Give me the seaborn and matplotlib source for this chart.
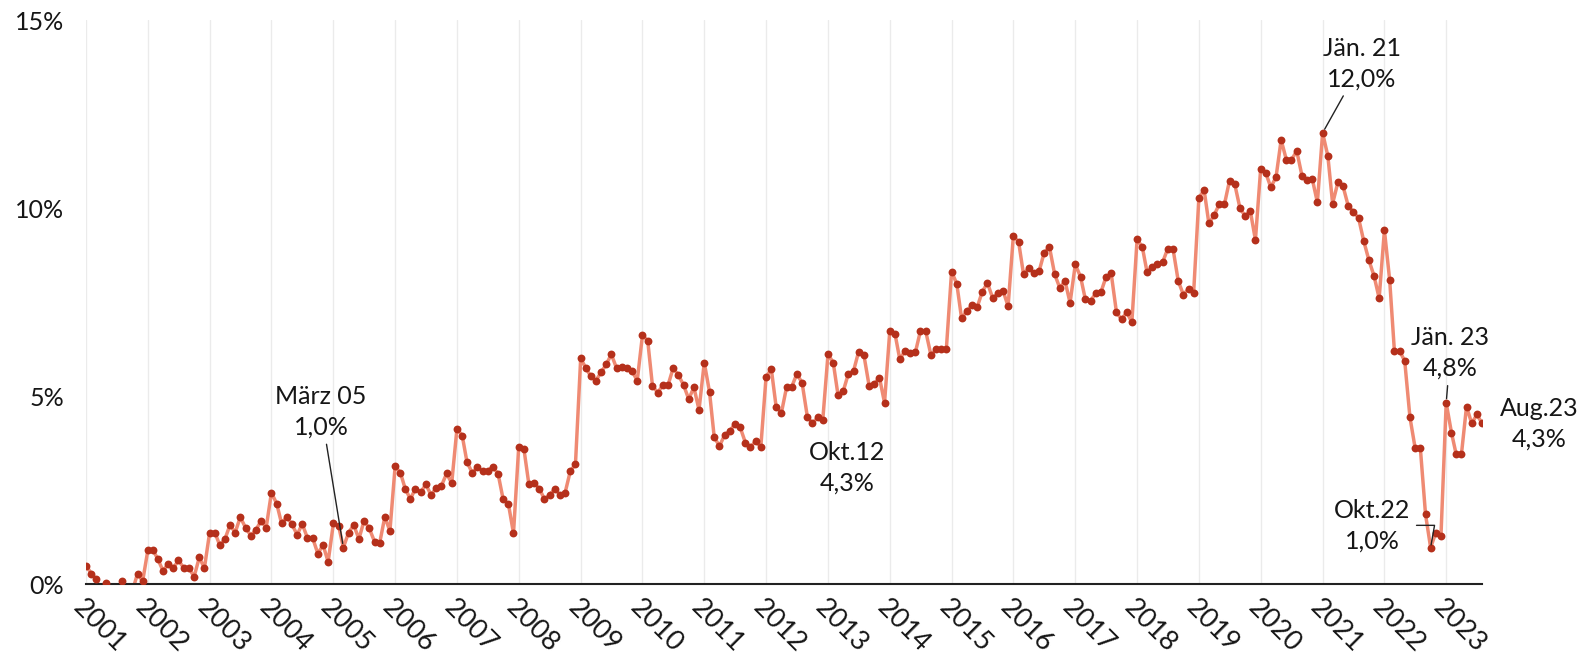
import pandas as pd
import seaborn as sns
import matplotlib.pyplot as plt
import matplotlib.dates as mdates

# Monatswerte in Prozent, je Jahr
rate_2001 = [0.49, 0.28, 0.13, -0.2, 0.02, -0.2, -0.2, 0.09, -0.25, -0.2, 0.28, 0.07]
rate_2002 = [0.90, 0.90, 0.66, 0.35, 0.54, 0.43, 0.63, 0.43, 0.43, 0.19, 0.71, 0.42]
rate_2003 = [1.37, 1.37, 1.04, 1.19, 1.57, 1.37, 1.78, 1.50, 1.29, 1.44, 1.68, 1.50]
rate_2004 = [2.43, 2.14, 1.61, 1.79, 1.59, 1.31, 1.60, 1.22, 1.22, 0.81, 1.04, 0.59]
rate_2005 = [1.61, 1.54, 0.97, 1.37, 1.57, 1.20, 1.68, 1.48, 1.13, 1.08, 1.79, 1.41]
rate_2006 = [3.14, 2.96, 2.54, 2.26, 2.54, 2.44, 2.65, 2.37, 2.56, 2.61, 2.94, 2.68]
rate_2007 = [4.13, 3.95, 3.25, 2.96, 3.10, 3.01, 3.01, 3.12, 2.93, 2.25, 2.13, 1.35]
rate_2008 = [3.65, 3.58, 2.65, 2.68, 2.54, 2.26, 2.37, 2.53, 2.37, 2.43, 3.01, 3.18]
rate_2009 = [6.00, 5.74, 5.53, 5.41, 5.63, 5.84, 6.11, 5.74, 5.76, 5.74, 5.66, 5.41]
rate_2010 = [6.62, 6.47, 5.27, 5.09, 5.29, 5.29, 5.74, 5.56, 5.29, 4.92, 5.23, 4.63]
rate_2011 = [5.89, 5.11, 3.90, 3.67, 3.96, 4.07, 4.26, 4.17, 3.76, 3.64, 3.80, 3.64]
rate_2012 = [5.50, 5.72, 4.70, 4.56, 5.23, 5.25, 5.59, 5.35, 4.45, 4.27, 4.43, 4.36]
rate_2013 = [6.11, 5.89, 5.03, 5.13, 5.59, 5.67, 6.18, 6.09, 5.27, 5.32, 5.49, 4.82]
rate_2014 = [6.73, 6.65, 5.98, 6.20, 6.14, 6.16, 6.73, 6.73, 6.09, 6.24, 6.24, 6.24]
rate_2015 = [8.31, 7.98, 7.07, 7.26, 7.42, 7.36, 7.77, 8.01, 7.60, 7.73, 7.80, 7.39]
rate_2016 = [9.26, 9.10, 8.24, 8.41, 8.26, 8.32, 8.81, 8.97, 8.24, 7.88, 8.06, 7.48]
rate_2017 = [8.50, 8.17, 7.58, 7.53, 7.73, 7.76, 8.16, 8.26, 7.23, 7.04, 7.23, 6.96]
rate_2018 = [9.17, 8.96, 8.29, 8.44, 8.50, 8.56, 8.92, 8.92, 8.06, 7.70, 7.85, 7.75]
rate_2019 = [10.27, 10.48, 9.59, 9.81, 10.10, 10.10, 10.73, 10.63, 9.99, 9.79, 9.92, 9.15]
rate_2020 = [11.04, 10.92, 10.55, 10.83, 11.81, 11.28, 11.28, 11.52, 10.86, 10.74, 10.77, 10.15]
rate_2021 = [12.00, 11.38, 10.12, 10.68, 10.59, 10.06, 9.90, 9.74, 9.12, 8.62, 8.19, 7.60]
rate_2022 = [9.41, 8.09, 6.20, 6.20, 5.93, 4.43, 3.63, 3.63, 1.85, 0.97, 1.37, 1.27]
rate_2023 = [4.82, 4.03, 3.45, 3.45, 4.72, 4.27, 4.51, 4.27]

years = list(range(2001, 2024))
y_ticks = [0, 5, 10, 15]
y_labels = ['0%', '5%', '10%', '15%']

values = (rate_2001 + rate_2002 + rate_2003 + rate_2004 + rate_2005 + rate_2006
          + rate_2007 + rate_2008 + rate_2009 + rate_2010 + rate_2011 + rate_2012
          + rate_2013 + rate_2014 + rate_2015 + rate_2016 + rate_2017 + rate_2018
          + rate_2019 + rate_2020 + rate_2021 + rate_2022 + rate_2023)
df = pd.DataFrame({'Monat': pd.date_range('2001-01-01', periods=len(values), freq='MS'),
                   'Wert': values})

# Beschriftete Punkte: (Datum, Text, Versatz in pt, Linie)
callouts = [
    ('2005-03-01', 'März 05', (-16, 98), 'straight'),
    ('2012-10-01', 'Okt.12', (25, -32), None),
    ('2021-01-01', 'Jän. 21', (28, 50), 'straight'),
    ('2022-10-01', 'Okt.22', (-42, 16), 'angle'),
    ('2023-01-01', 'Jän. 23', (3, 36), 'straight'),
    ('2023-08-01', 'Aug.23', (41, 0), None),
]

sns.set_style('white')
plt.rcParams['font.family'] = ['Lato', 'DejaVu Sans']
text_color = '#161616'

fig = plt.figure(figsize=(15.88, 6.68), dpi=100)
ax = fig.add_axes([0.0542, 0.1257, 0.8791, 0.8443])

sns.lineplot(data=df, x='Monat', y='Wert', color='#ef8a73', linewidth=2.5, ax=ax, zorder=2)
sns.scatterplot(data=df, x='Monat', y='Wert', color='#b5301b', s=32, linewidth=0, ax=ax, zorder=3)

ax.set_xlim(df['Monat'].iloc[0], df['Monat'].iloc[-1])
ax.set_ylim(0, 15)

year_starts = pd.to_datetime([f'{y}-01-01' for y in years])
ax.set_xticks(year_starts)
ax.set_xticklabels([str(y) for y in years], rotation=-45, ha='left', va='top',
                   rotation_mode='anchor', fontsize=19.5, color=text_color)
ax.tick_params(axis='x', direction='inout', length=14, width=1.5, color='#222222', pad=1)
ax.xaxis.grid(True, color='#ebebeb', linewidth=1)
ax.set_axisbelow(True)

ax.set_yticks(y_ticks)
ax.set_yticklabels(y_labels, fontsize=18, color=text_color)
ax.tick_params(axis='y', length=4, width=1, color='#dddddd', pad=12)

for side in ['top', 'right', 'left']:
    ax.spines[side].set_visible(False)
ax.spines['bottom'].set_color('#222222')
ax.spines['bottom'].set_linewidth(1.5)
ax.set_xlabel('')
ax.set_ylabel('')

for date, name, offset, style in callouts:
    ts = pd.Timestamp(date)
    val = df.loc[df['Monat'] == ts, 'Wert'].iloc[0]
    label = name + '\n' + f'{val:.1f}'.replace('.', ',') + '%'
    props = None
    if style == 'straight':
        props = dict(arrowstyle='-', color='#222222', lw=1, shrinkA=2, shrinkB=3)
    elif style == 'angle':
        props = dict(arrowstyle='-', color='#222222', lw=1, shrinkA=2, shrinkB=2,
                     connectionstyle='angle,angleA=0,angleB=80,rad=0')
    ax.annotate(label, xy=(mdates.date2num(ts), val), xytext=offset,
                textcoords='offset points', ha='center', va='center', ma='center',
                fontsize=18, color=text_color, linespacing=1.4, arrowprops=props,
                zorder=4)

plt.savefig('out.png', dpi=100)
